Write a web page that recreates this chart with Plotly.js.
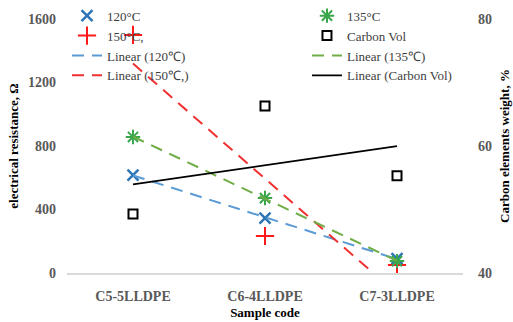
<!DOCTYPE html>
<html><head><meta charset="utf-8">
<script src="https://cdn.plot.ly/plotly-3.0.1.min.js"></script>
<style>body{margin:0;padding:0;background:#fff}#c{width:513px;height:322px}</style>
</head><body><div id="c"></div>
<script>
const categories = ["C5-5LLDPE", "C6-4LLDPE", "C7-3LLDPE"];
const r120 = [617, 346, 90];
const r135 = [857, 472, 75];
const r150 = [1500, 233, 50];
const carbonVol = [49.3, 66.3, 55.3];
const leftTicks = [0, 400, 800, 1200, 1600];
const rightTicks = [40, 60, 80];

// least-squares linear trend (like Excel's linear trendline) over x = 1..n
function trend(y) {
  const n = y.length;
  const xs = y.map((_, i) => i + 1);
  const mx = xs.reduce((a, b) => a + b, 0) / n;
  const my = y.reduce((a, b) => a + b, 0) / n;
  let sxy = 0, sxx = 0;
  for (let i = 0; i < n; i++) { sxy += (xs[i] - mx) * (y[i] - my); sxx += (xs[i] - mx) ** 2; }
  const b = sxy / sxx, a = my - b * mx;
  return xs.map(x => a + b * x);
}

const serif = "'Liberation Serif', 'Times New Roman', serif";
const dashPat = "12px,8px";
const traces = [
  {x: categories, y: r120, name: "120°C", mode: "markers", type: "scatter", legend: "legend",
   marker: {symbol: "x-thin-open", size: 11, color: "#2e75b6", line: {width: 2.5, color: "#2e75b6"}}},
  {x: categories, y: r150, name: "150°C,", mode: "markers", type: "scatter", legend: "legend",
   marker: {symbol: "cross-thin-open", size: 13, color: "#ff1a1a", line: {width: 2, color: "#ff1a1a"}}},
  {x: categories, y: trend(r120), name: "Linear (120℃)", mode: "lines", type: "scatter", legend: "legend",
   line: {color: "#5b9bd5", width: 2, dash: dashPat}},
  {x: categories, y: trend(r150), name: "Linear (150℃,)", mode: "lines", type: "scatter", legend: "legend",
   line: {color: "#f03030", width: 2, dash: dashPat}},
  {x: categories, y: r135, name: "135°C", mode: "markers", type: "scatter", legend: "legend2",
   marker: {symbol: "asterisk-open", size: 12, color: "#3aa64c", line: {width: 2, color: "#3aa64c"}}},
  {x: categories, y: carbonVol, name: "Carbon Vol", mode: "markers", type: "scatter", yaxis: "y2", legend: "legend2",
   marker: {symbol: "square-open", size: 9, color: "#000", line: {width: 2, color: "#000"}}},
  {x: categories, y: trend(r135), name: "Linear (135℃)", mode: "lines", type: "scatter", legend: "legend2",
   line: {color: "#70ad47", width: 2, dash: dashPat}},
  {x: categories, y: trend(carbonVol), name: "Linear (Carbon Vol)", mode: "lines", type: "scatter", yaxis: "y2", legend: "legend2",
   line: {color: "#000", width: 1.7}}
];

const tickFont = {family: serif, size: 14, color: "#595959", weight: "bold"};
const titleFont = {family: serif, size: 13, color: "#000", weight: "bold"};
const legendFont = {family: serif, size: 13, color: "#404040"};
const legendY = 1.072;
const layout = {
  width: 513, height: 322,
  font: {family: serif, size: 13, color: "#404040"},
  margin: {l: 67, r: 50, t: 19, b: 49, autoexpand: false},
  paper_bgcolor: "#fff", plot_bgcolor: "#fff",
  showlegend: true,
  legend: {orientation: "v", x: 0, y: legendY, xanchor: "left", yanchor: "top",
    tracegroupgap: 0, bgcolor: "rgba(0,0,0,0)", font: legendFont},
  legend2: {orientation: "v", x: 0.606, y: legendY, xanchor: "left", yanchor: "top",
    tracegroupgap: 0, bgcolor: "rgba(0,0,0,0)", font: legendFont},
  xaxis: {type: "category", range: [-0.5, 2.5], showgrid: false, zeroline: false,
    showline: true, linecolor: "#d9d9d9", linewidth: 1.5, ticks: "",
    tickfont: tickFont, ticklabelstandoff: 10,
    title: {text: "Sample code", font: titleFont, standoff: 4}},
  yaxis: {range: [0, 1600], tickvals: leftTicks, showgrid: false, zeroline: false,
    showline: false, ticks: "", tickfont: tickFont, ticklabelstandoff: 10,
    title: {text: "electrical resistance, Ω", font: titleFont, standoff: 6}},
  yaxis2: {range: [40, 80], tickvals: rightTicks, overlaying: "y", side: "right",
    showgrid: false, zeroline: false, showline: false, ticks: "",
    tickfont: tickFont, ticklabelstandoff: 14,
    title: {text: "Carbon elements weight, %", font: titleFont, standoff: 8}}
};
Plotly.newPlot("c", traces, layout, {staticPlot: true, displayModeBar: false});
</script></body></html>
